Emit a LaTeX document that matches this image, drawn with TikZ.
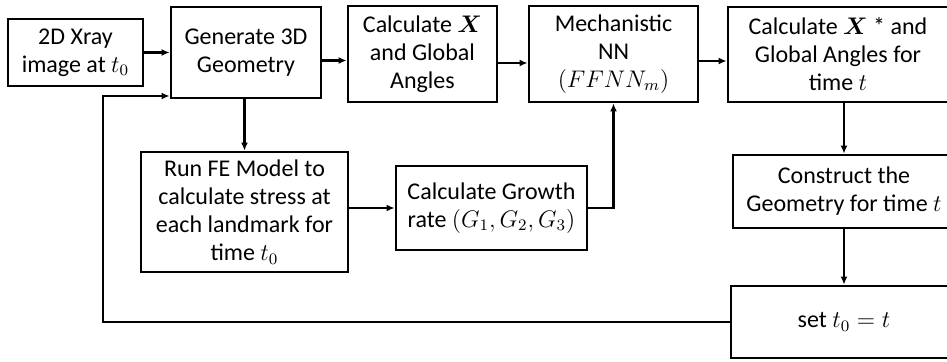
\documentclass[tikz,border=0pt]{standalone}
\usepackage{fontspec}
\setmainfont{Carlito}
\usepackage{amsmath}
\usetikzlibrary{calc,arrows.meta}

\begin{document}
\begin{tikzpicture}[x=0.5pt, y=0.5pt,
		blk/.style={draw, line width=1.4pt, align=center, inner sep=0pt,
			font=\fontsize{12}{14}\selectfont},
		arr/.style={line width=1.1pt, -{Latex[length=4pt,width=3.5pt]}}]
			%%%%% START %%%%%
			
			\useasboundingbox (0, 0) rectangle (947, 362);
			\clip (0, 0) rectangle (947, 362);
			
			\node[blk, minimum width=67.5pt, minimum height=33.5pt] (xray) at (75.5, 309.5) {2D Xray\\image at $t_0$};
			\node[blk, minimum width=75pt, minimum height=45.5pt] (geo) at (246, 309.5) {Generate 3D\\Geometry};
			\node[blk, minimum width=74.5pt, minimum height=48pt] (calcx) at (422.5, 308) {Calculate $\boldsymbol{X}$\\and Global\\Angles};
			\node[blk, minimum width=84.5pt, minimum height=48pt] (mnn) at (613.5, 308) {Mechanistic\\NN\\$(FFNN_m)$};
			\node[blk, minimum width=110pt, minimum height=47.5pt] (calcxs) at (838, 307.5) {Calculate $\boldsymbol{X}$ * and\\Global Angles for\\time $t$};
			
			\node[blk, minimum width=103.5pt, minimum height=60pt] (fe) at (244.5, 150) {Run FE Model to\\calculate stress at\\each landmark for\\time $t_0$};
			\node[blk, minimum width=95.5pt, minimum height=42pt] (grow) at (491.5, 154) {Calculate Growth\\rate $(G_1, G_2, G_3)$};
			
			\node[blk, minimum width=111pt, minimum height=36.5pt] (cons) at (844, 170.5) {Construct the\\Geometry for time $t$};
			\node[blk, minimum width=113pt, minimum height=36pt] (sett) at (844, 40) {set $t_0 = t$};
			
			\coordinate (back) at (103, 266);
			
			% top row
			\draw[arr] (xray) -- (geo);
			\draw[arr] ([yshift=-4pt]geo.east) -- ([yshift=-4pt]geo.east -| calcx.west);
			\draw[arr] ([yshift=-4.5pt]calcx.east) -- ([yshift=-4.5pt]mnn.west);
			\draw[arr] ([yshift=-3.5pt]mnn.east) -- ([yshift=-3.5pt]mnn.east -| calcxs.west);
			
			% down the right side
			\draw[arr] (calcxs.south -| cons.north) -- (cons.north);
			\draw[arr] (cons) -- (sett);
			
			% FE branch
			\draw[arr] (geo.south -| fe.north) -- (fe.north);
			\draw[arr] (fe.east |- grow.west) -- (grow.west);
			\draw[arr] (grow.east) -| (mnn.south);
			
			% loop back
			\draw[arr] (sett.west) -| (back) -- (back -| geo.west);
			
			%%%%% END %%%%%
\end{tikzpicture}
\end{document}
